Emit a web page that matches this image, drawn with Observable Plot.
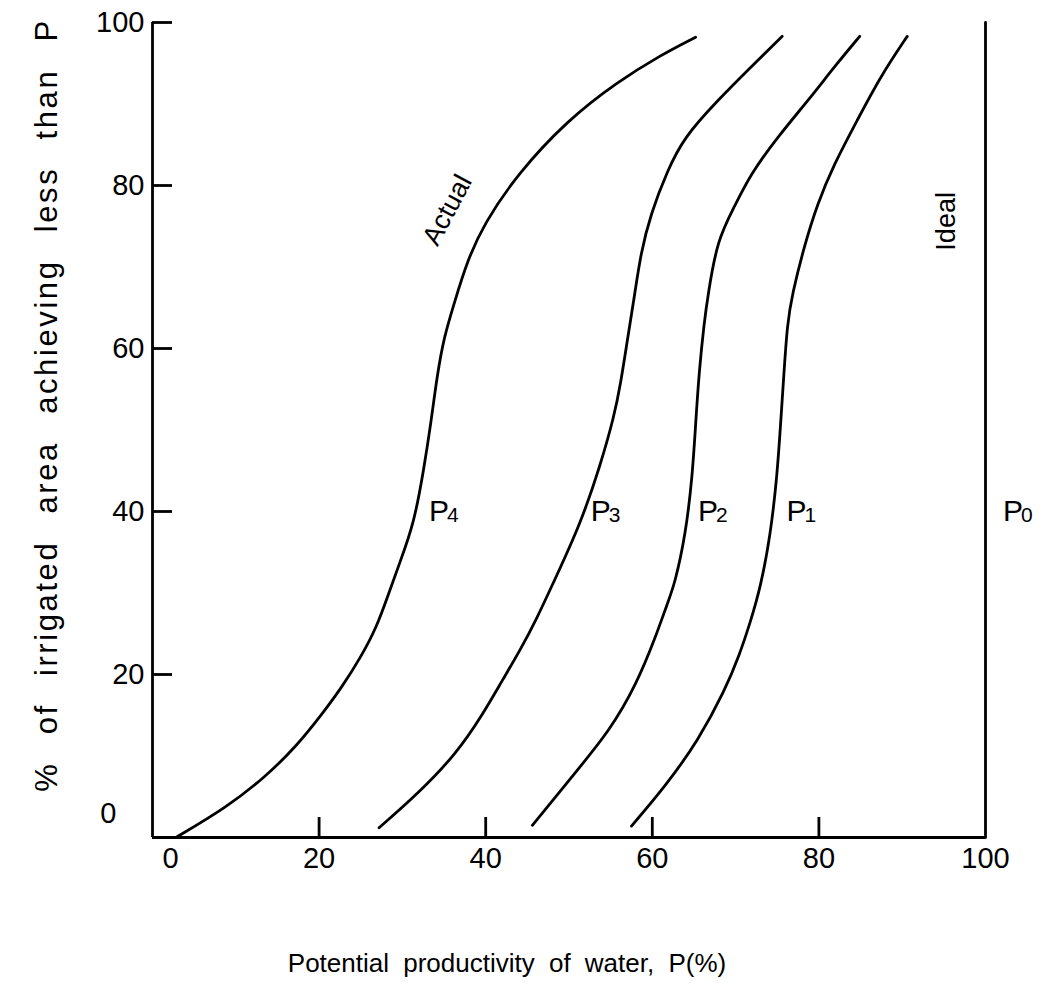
<!DOCTYPE html>
<html>
<head>
<meta charset="utf-8">
<script src="https://cdn.jsdelivr.net/npm/d3@7"></script>
<script src="https://cdn.jsdelivr.net/npm/@observablehq/plot@0.6"></script>
<style>
  html, body { margin: 0; padding: 0; background: #fff; }
  #chart { width: 1038px; height: 993px; }
</style>
</head>
<body>
<div id="chart"></div>
<script>
// ---- data ----
const xTicks = [0, 20, 40, 60, 80, 100];
const yTicks = [0, 20, 40, 60, 80, 100];
const xInnerTicks = [20, 40, 60, 80];
const yInnerTicks = [20, 40, 60, 80, 100];

// Actual curve (P4)
const curveP4 = [[2.8,0],[8.9,3.7],[13.5,7.4],[17.2,11.1],[20.4,15.2],[22.7,18.4],[25.0,22.1],[26.9,25.8],[28.2,29.5],[29.6,33.5],[31.4,38.5],[32.6,45.4],[33.4,50.7],[34.2,56.9],[35.0,61.4],[36.2,65.5],[37.8,70.8],[39.8,75.3],[43.8,81.4],[49.8,88.0],[55.8,92.7],[61.0,96.0],[65.2,98.2]];
const curveP3 = [[27.2,1.2],[31.9,5.4],[36.5,10.3],[39.7,15.2],[42.0,19.3],[44.1,22.9],[46.2,27.0],[48.0,31.0],[51.4,38.5],[53.8,45.8],[55.4,51.6],[56.2,55.7],[57.0,61.0],[57.9,66.7],[58.6,71.6],[59.8,76.5],[61.8,81.8],[63.8,85.9],[67.8,90.4],[71.8,94.5],[75.6,98.3]];
const curveP2 = [[45.6,1.5],[50.3,7.4],[54.9,13.1],[58.1,18.8],[60.4,24.6],[61.8,28.7],[62.7,31.1],[64.0,37.2],[64.8,44.2],[65.2,50.7],[65.6,56.9],[66.2,63.0],[66.7,66.7],[67.8,73.3],[69.8,77.3],[71.8,81.4],[75.0,85.9],[79.0,90.8],[81.8,94.5],[84.9,98.3]];
const curveP1 = [[57.5,1.4],[61.8,6.6],[65.5,11.9],[68.7,18.0],[70.5,22.5],[71.7,26.2],[73.0,30.7],[74.2,37.2],[75.0,44.6],[75.4,50.7],[75.8,56.9],[76.2,63.0],[76.8,66.7],[78.2,72.4],[79.8,77.7],[81.8,82.6],[84.6,88.0],[87.4,93.4],[90.6,98.3]];
const curveP0 = [[100,0],[100,100]]; // Ideal

const curveNames = ["P4", "P3", "P2", "P1", "P0"];
const curves = [curveP4, curveP3, curveP2, curveP1, curveP0];

const labelMain = ["P", "P", "P", "P", "P"];
const labelSub = ["4", "3", "2", "1", "0"];
const labelX = [33.2, 52.6, 65.5, 76.1, 102.1];
const labelY = [40, 40, 40, 40, 40];

const notes = ["Actual", "Ideal"];
const noteX = [35.4, 95.3];
const noteY = [77.0, 75.6];
const noteRotate = [-62, -90];

const xTitle = "Potential productivity of water, P(%)";
const yTitle = "% of irrigated area achieving less than P";

// ---- build tables ----
const rows = [];
curves.forEach((pts, i) => pts.forEach(([x, y]) => rows.push({name: curveNames[i], x, y})));
const labels = labelMain.map((t, i) => ({t, s: labelSub[i], x: labelX[i], y: labelY[i]}));
const noteRows = notes.map((t, i) => ({t, x: noteX[i], y: noteY[i], r: noteRotate[i]}));

const narrow = "'Liberation Sans Narrow', 'Liberation Sans', Arial, sans-serif";
const regular = "'Liberation Sans', Arial, sans-serif";
const SW = 2.8;

const chart = Plot.plot({
  width: 1038,
  height: 993,
  marginLeft: 152,
  marginRight: 53,
  marginTop: 22,
  marginBottom: 156,
  x: {domain: [0, 100], axis: null},
  y: {domain: [0, 100], axis: null},
  style: {fontFamily: regular, color: "#000", background: "#fff", overflow: "visible"},
  marks: [
    // frame: left and bottom axis lines
    Plot.ruleX([0], {y1: 0, y2: 100, strokeWidth: SW, stroke: "#000"}),
    Plot.ruleY([0], {x1: 0, x2: 100, strokeWidth: SW, stroke: "#000"}),
    // inward ticks
    Plot.axisY({ticks: yInnerTicks, tickSize: 20, dx: 20, fill: "none", stroke: "#000", strokeWidth: SW, label: null}),
    Plot.axisX({ticks: xInnerTicks, tickSize: 20, dy: -20, fill: "none", stroke: "#000", strokeWidth: SW, label: null}),
    // curves
    Plot.line(rows, {x: "x", y: "y", z: "name", curve: "basis", stroke: "#000", strokeWidth: SW}),
    // y tick labels
    Plot.text(yTicks.filter(d => d !== 0), {frameAnchor: "left", y: d => d, text: d => String(d), dx: -8, textAnchor: "end", fontSize: 29, fontFamily: narrow, fill: "#000"}),
    Plot.text(yTicks.filter(d => d === 0), {frameAnchor: "left", y: d => d, text: d => String(d), dx: -36, dy: -24, textAnchor: "end", fontSize: 29, fontFamily: narrow, fill: "#000"}),
    // x tick labels
    Plot.text(xTicks.filter(d => d !== 0), {frameAnchor: "bottom", x: d => d, text: d => String(d), dy: 30, fontSize: 29, fontFamily: narrow, fill: "#000"}),
    Plot.text(xTicks.filter(d => d === 0), {frameAnchor: "bottom", x: d => d, text: d => String(d), dx: 18, dy: 30, fontSize: 29, fontFamily: narrow, fill: "#000"}),
    // curve labels: P with subscript index
    Plot.text(labels, {x: "x", y: "y", text: "t", textAnchor: "start", fontSize: 30, fontFamily: narrow, fill: "#000"}),
    Plot.text(labels, {x: "x", y: "y", text: "s", textAnchor: "start", dx: 18, dy: 4, fontSize: 21, fontFamily: regular, fill: "#000"}),
    // notes
    Plot.text(noteRows, {x: "x", y: "y", text: "t", rotate: "r", fontSize: 27, fontFamily: regular, fill: "#000"}),
    // axis titles
    Plot.text([xTitle], {frameAnchor: "bottom", text: d => d, dx: -62, dy: 134, fontSize: 26, fontFamily: regular, fill: "#000"}),
    Plot.text([yTitle], {frameAnchor: "left", textAnchor: "middle", text: d => d, dx: -105, dy: -25, rotate: -90, fontSize: 31, fontFamily: narrow, fill: "#000"})
  ]
});

// spacing of the lettering as in the reference
d3.select(chart).selectAll("text").each(function () {
  const t = this.textContent;
  if (t === yTitle) { this.style.letterSpacing = "2.6px"; this.style.wordSpacing = "16px"; }
  if (t === xTitle) { this.style.wordSpacing = "7px"; }
});

document.getElementById("chart").appendChild(chart);
</script>
</body>
</html>
